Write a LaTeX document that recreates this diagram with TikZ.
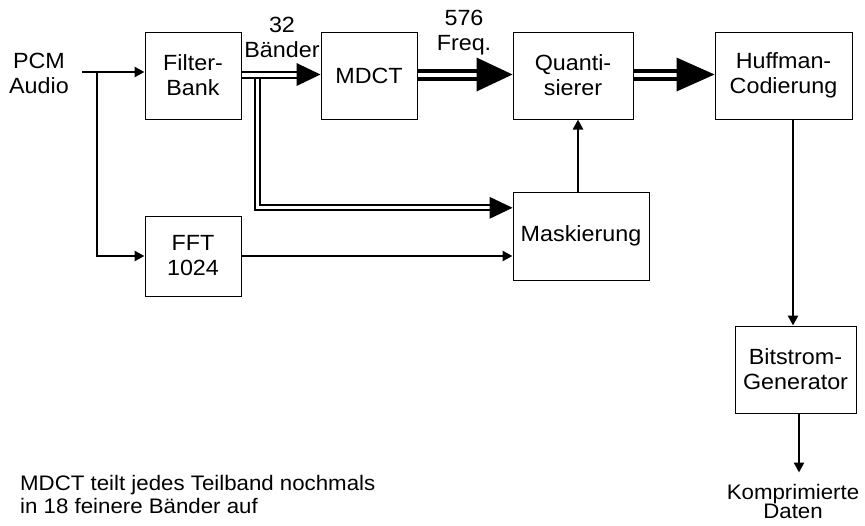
\documentclass[tikz,border=0pt]{standalone}
\usepackage{fontspec}
\setmainfont{Liberation Sans}[FakeStretch=1.06]
\usetikzlibrary{arrows.meta,calc}
\begin{document}
\begin{tikzpicture}[x=1pt,y=-1pt,
  box/.style={draw,line width=1pt,inner sep=0pt,align=center,font=\fontsize{22}{25}\selectfont},
  lbl/.style={inner sep=0pt,align=center,font=\fontsize{22}{25}\selectfont},
  arr/.style={line width=2.5pt,-{Triangle[length=10pt,width=10pt]}},
  dblthin/.style={line width=2pt,double=white,double distance=4pt},
  dblbr/.style={line width=2pt,double=white,double distance=3pt},
  dblthick/.style={line width=4pt,double=white,double distance=4pt}
]
\useasboundingbox (0,0) rectangle (865,525);

% boxes
\node[box,minimum width=96pt,minimum height=87pt] (fb) at (193,75.5) {Filter-\\Bank};
\node[box,minimum width=96pt,minimum height=87pt] (mdct) at (369,75.5) {MDCT};
\node[box,minimum width=120pt,minimum height=87pt] (quant) at (573,75.5) {Quanti-\\sierer};
\node[box,minimum width=137pt,minimum height=87pt] (huff) at (783.5,75.5) {Huffman-\\Codierung};
\node[box,minimum width=136pt,minimum height=88pt] (mask) at (581,236) {Maskierung};
\node[box,minimum width=96pt,minimum height=80pt] (fft) at (193,256) {FFT\\1024};
\node[box,minimum width=121pt,minimum height=87pt] (bits) at (795.5,369.5) {Bitstrom-\\Generator};

% labels
\node[lbl,anchor=north] (pcm) at (39,53) {PCM\\Audio};
\node[lbl,anchor=north] (l32) at (282,17) {32\\Bänder};
\node[lbl,anchor=north] (l576) at (464,10) {576\\Freq.};
\node[lbl,anchor=north,font=\fontsize{21}{19}\selectfont] (kd) at (793,484) {Komprimierte\\Daten};
\node[lbl,anchor=north west,align=left,font=\fontsize{21}{23}\selectfont] (note) at (20,475)
  {MDCT teilt jedes Teilband nochmals\\in 18 feinere Bänder auf};

% input
\coordinate (pin) at (82,72);
\coordinate (br) at (97,72);
\draw[arr] (pin) -- (pin -| fb.west);
\draw[arr] (br) |- (fft.west);

% filter bank -> MDCT (double)
\draw[dblthin] ($(fb.east)+(0,-1)$) -- ($(mdct.west)+(-23,-1)$);
\fill ($(mdct.west)+(0,-1)$) -- ++(-24,-11.5) -- ++(0,23) -- cycle;

% filter bank -> Maskierung (double)
\coordinate (sp) at ($(fb.east)+(15.8,3)$);
\draw[dblbr] (sp) |- ($(mask.west)+(-22,-28.2)$);
\fill ($(mask.west)+(0,-28.2)$) -- ++(-23,-11) -- ++(0,22) -- cycle;

% MDCT -> Quantisierer
\draw[dblthick] ($(mdct.east)+(0,-1)$) -- ($(quant.west)+(-35,-1)$);
\fill ($(quant.west)+(0,-1)$) -- ++(-36,-17) -- ++(0,34) -- cycle;

% Quantisierer -> Huffman
\draw[dblthick] ($(quant.east)+(0,-1)$) -- ($(huff.west)+(-37,-1)$);
\fill ($(huff.west)+(0,-1)$) -- ++(-38,-17) -- ++(0,34) -- cycle;

% other single arrows
\draw[arr] ([xshift=-3pt]mask.north) -- ([xshift=-3pt]mask.north |- quant.south);
\draw[arr] (fft.east) -- (fft.east -| mask.west);
\draw[arr] ([xshift=-2.5pt]bits.north |- huff.south) -- ([xshift=-2.5pt]bits.north);
\coordinate (out) at ($(bits.south)+(3.5,59)$);
\draw[arr] ([xshift=3.5pt]bits.south) -- (out);
\end{tikzpicture}
\end{document}
